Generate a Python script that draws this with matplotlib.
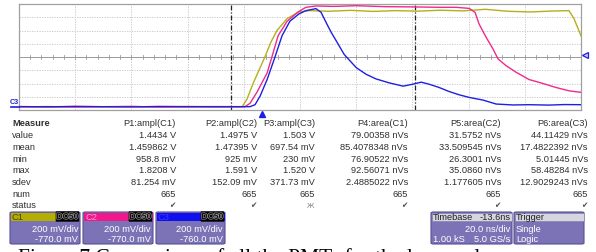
import matplotlib
matplotlib.use("Agg")
import matplotlib.pyplot as plt
from matplotlib.patches import FancyBboxPatch, Rectangle
import matplotlib.patheffects as pe

W, H = 596, 253

# ---------------- data ----------------
# time in ns (20 ns/div, 10 div), amplitude in vertical divisions (0..8)
t_c1 = [0, 10, 20, 30, 40, 50, 60, 70, 79.4, 81.1, 83.3, 85.4, 87.5, 89.6, 91.8, 95.4, 99.6, 103.6,
        110, 118, 126, 134, 142, 150, 158, 166, 174, 182, 190, 195.7, 197.5, 200]
v_c1 = [0.25, 0.22, 0.27, 0.24, 0.26, 0.23, 0.27, 0.25, 0.25, 0.8, 2.0, 3.0, 4.0, 5.1, 6.0, 6.9, 7.4, 7.5,
        7.45, 7.52, 7.44, 7.5, 7.46, 7.53, 7.48, 7.6, 7.45, 7.4, 7.47, 7.5, 6.9, 5.6]

t_c2 = [0, 10, 20, 30, 40, 50, 60, 70, 80.4, 82.2, 84.7, 88.3, 90.0, 92.2, 95.4, 99.3, 102.1, 105.7,
        112, 120, 130, 140, 150, 155.6, 160.2, 162.3, 163.7, 166.2, 168.7, 170.5, 173.3, 176.9,
        181.5, 186.5, 191.1, 195.7, 200]
v_c2 = [0.23, 0.26, 0.22, 0.25, 0.27, 0.22, 0.24, 0.26, 0.25, 0.5, 1.35, 2.8, 4.0, 5.6, 6.7, 7.4, 7.75, 7.85,
        7.82, 7.87, 7.8, 7.78, 7.75, 7.75, 7.67, 7.37, 6.5, 5.5, 4.6, 3.85, 3.35, 2.85,
        2.3, 2.0, 1.7, 1.45, 1.33]

t_c3 = [0, 10, 20, 30, 40, 50, 60, 70, 82.2, 84.0, 85.8, 88.3, 91.1, 93.6, 96.4, 99.6, 102.1, 105.7,
        107.5, 109.3, 111.0, 113.5, 115.7, 120.0, 123.5, 127.0, 131.7, 136.7, 140.2, 143.1, 145.9,
        149.5, 153.0, 156.6, 160.2, 165.1, 169.8, 175.8, 181.5, 188.6, 194, 200]
v_c3 = [0.26, 0.24, 0.27, 0.25, 0.23, 0.27, 0.25, 0.24, 0.25, 0.4, 1.05, 2.3, 4.0, 5.6, 6.7, 7.25, 7.5, 7.65,
        7.37, 6.6, 5.9, 5.0, 4.2, 3.2, 2.7, 2.35, 2.05, 1.8, 1.95, 2.1, 1.95,
        1.7, 1.4, 1.15, 0.95, 0.75, 0.45, 0.38, 0.4, 0.37, 0.41, 0.4]

cursor_times = [75.4, 140.9]

measure_rows = ["value", "mean", "min", "max", "sdev", "num", "status"]
param_names = ["P1:ampl(C1)", "P2:ampl(C2)", "P3:ampl(C3)", "P4:area(C1)", "P5:area(C2)", "P6:area(C3)"]
p1_vals = ["1.4434 V", "1.459862 V", "958.8 mV", "1.8208 V", "81.254 mV", "665", "ok"]
p2_vals = ["1.4975 V", "1.47395 V", "925 mV", "1.591 V", "152.09 mV", "665", "ok"]
p3_vals = ["1.503 V", "697.54 mV", "230 mV", "1.520 V", "371.73 mV", "665", "warn"]
p4_vals = ["79.00358 nVs", "85.4078348 nVs", "76.90522 nVs", "92.56071 nVs", "2.4885022 nVs", "665", "ok"]
p5_vals = ["31.5752 nVs", "33.509545 nVs", "26.3001 nVs", "35.0860 nVs", "1.177605 nVs", "665", "ok"]
p6_vals = ["44.11429 nVs", "17.4822392 nVs", "5.01445 nVs", "58.48284 nVs", "12.9029243 nVs", "665", "ok"]

channels = ["C1", "C2", "C3"]
ch_vdiv = ["200 mV/div", "200 mV/div", "200 mV/div"]
ch_offset = ["-770.0 mV", "-770.0 mV", "-760.0 mV"]
timebase_delay = "-13.6 ns"
timebase_div = "20.0 ns/div"
timebase_samples = "1.00 kS"
timebase_rate = "5.0 GS/s"
trigger_lines = ["Single", "Logic"]

caption = "Figure 7 Comparison of all the PMTs for the laser pulses"

# ---------------- styles ----------------
col_c1 = "#b4b01c"
col_c2 = "#ee2a8c"
col_c3 = "#1f1fe0"
hdr_cols = [("#b3ae00", "#4a4600"), ("#f0188a", "#ff9ccc"), ("#1010ee", "#3a3aff")]
box_body = "#7b73b5"
box_edge = "#585096"

fig = plt.figure(figsize=(W / 100, H / 100), dpi=100)
fig.patch.set_facecolor("white")


def fx(x):
    return x / W


def fy(y):
    return 1 - y / H


# ---------------- plot area ----------------
L, T, R, B = 19, 5, 581, 111
ax = fig.add_axes([fx(L), fy(B), (R - L) / W, (B - T) / H])
ax.set_xlim(0, 200)
ax.set_ylim(0, 8)
ax.set_xticks([])
ax.set_yticks([])
for s in ax.spines.values():
    s.set_color("#a0a0a0")
    s.set_linewidth(0.9)

for i in range(1, 10):
    ax.axvline(i * 20, color="#c4c4c4", lw=0.6, ls=(0, (1.5, 1.5)), zorder=1)
for j in range(1, 8):
    ax.axhline(j, color="#c4c4c4", lw=0.6, ls=(0, (1.5, 1.5)), zorder=1)
ax.axhline(4, color="#9a9a9a", lw=0.7, zorder=1)
for k in range(1, 50):
    ax.plot([k * 4, k * 4], [3.88, 4.12], color="#9a9a9a", lw=0.6, zorder=1)
for ct in cursor_times:
    ax.axvline(ct, color="#222222", lw=0.9, ls=(0, (4, 1.5, 1, 1.5)), zorder=2)

ax.plot(t_c1, v_c1, color=col_c1, lw=1.0, zorder=3)
ax.plot(t_c2, v_c2, color=col_c2, lw=1.0, zorder=4)
ax.plot(t_c3, v_c3, color=col_c3, lw=1.0, zorder=5)

# markers around plot
fig.text(fx(10), fy(103), "C3", color=col_c3, fontsize=5.2, fontweight="bold",
         family="Liberation Sans", va="center", ha="left")
fig.add_artist(plt.Line2D([fx(11), fx(19)], [fy(108), fy(108)], color=col_c3, lw=1.2))
fig.add_artist(plt.Line2D([fx(585)], [fy(56)], marker="<", color=col_c3, ms=4.5,
                          mfc="#c8c8ff", mew=0.9, ls="none"))
fig.add_artist(plt.Line2D([fx(262)], [fy(115)], marker="^", color=col_c3, ms=4.5, ls="none"))

# ---------------- measure table ----------------
row_y = [135.7, 147.4, 159.1, 170.9, 182.6, 194.3, 206]
col_right = [176, 257, 315, 408, 501, 588]
tfont = dict(family="Liberation Sans", fontsize=6.7, color="#303030", va="center")
fig.text(fx(12), fy(124), "Measure", fontweight="bold", ha="left", **tfont)
for r, yv in zip(measure_rows, row_y):
    fig.text(fx(12), fy(yv), r, ha="left", **tfont)
cols = [p1_vals, p2_vals, p3_vals, p4_vals, p5_vals, p6_vals]
for name, xr, vals in zip(param_names, col_right, cols):
    fig.text(fx(xr), fy(124), name, ha="right", **tfont)
    for v, yv in zip(vals, row_y):
        if v == "ok":
            fig.text(fx(xr - 1), fy(yv), "\u2714", ha="right", va="center", fontsize=5.5,
                     color="#505050", family="DejaVu Sans")
        elif v == "warn":
            fig.text(fx(xr - 1), fy(yv), "\u0416", ha="right", va="center", fontsize=5.0,
                     color="#808080", family="DejaVu Sans")
        else:
            fig.text(fx(xr), fy(yv), v, ha="right", **tfont)


# ---------------- channel descriptor boxes ----------------
def box(x0, x1, y0, y1, face, edge, z=2):
    p = FancyBboxPatch((fx(x0), fy(y1)), fx(x1) - fx(x0), fy(y0) - fy(y1),
                       boxstyle="round,pad=0,rounding_size=0.004",
                       transform=fig.transFigure, facecolor=face, edgecolor=edge, lw=0.8, zorder=z)
    fig.add_artist(p)


bfont = dict(family="Liberation Sans", fontsize=6.7, color="white", va="center")
box_x = [(10, 80), (83, 153), (156, 225)]
for (x0, x1), ch, vd, off, (hc, htc) in zip(box_x, channels, ch_vdiv, ch_offset, hdr_cols):
    box(x0, x1, 213, 245, box_body, box_edge)
    fig.add_artist(Rectangle((fx(x0 + 0.5), fy(222)), fx(x1 - x0 - 1), (222 - 213.5) / H,
                             transform=fig.transFigure, facecolor=hc, edgecolor="none", zorder=3))
    fig.text(fx(x0 + 2), fy(217.5), ch, ha="left", va="center", fontsize=6.7,
             family="Liberation Sans", color=htc, zorder=4)
    fig.text(fx(x1 - 1.5), fy(217.5), "DC50", ha="right", va="center", fontsize=6.2,
             family="Liberation Sans", fontweight="bold", color="#111111", zorder=5,
             bbox=dict(boxstyle="round,pad=0.08", fc="black", ec="none"),
             path_effects=[pe.withStroke(linewidth=0.8, foreground="#9a9a9a")])
    fig.text(fx(x1 - 2), fy(230), vd, ha="right", zorder=4, **bfont)
    fig.text(fx(x1 - 2), fy(239.5), off, ha="right", zorder=4, **bfont)

# timebase
box(431, 512, 213, 245, box_body, box_edge)
fig.add_artist(Rectangle((fx(431.5), fy(222)), fx(80), (222 - 213.5) / H,
                         transform=fig.transFigure, facecolor="#d6d6e0", edgecolor="#8880b0",
                         lw=0.5, zorder=3))
fig.text(fx(433), fy(217.5), "Timebase", ha="left", va="center", fontsize=6.7,
         family="Liberation Sans", color="#202020", zorder=4)
fig.text(fx(510.5), fy(217.5), timebase_delay.replace(" ", ""), ha="right", va="center", fontsize=6.7,
         family="Liberation Sans", color="#202020", zorder=4)
fig.text(fx(510), fy(230), timebase_div, ha="right", zorder=4, **bfont)
fig.text(fx(433), fy(239.5), timebase_samples, ha="left", zorder=4, **bfont)
fig.text(fx(510), fy(239.5), timebase_rate, ha="right", zorder=4, **bfont)

# trigger
box(514, 584, 213, 245, box_body, box_edge)
fig.add_artist(Rectangle((fx(514.5), fy(222)), fx(69), (222 - 213.5) / H,
                         transform=fig.transFigure, facecolor="#d6d6e0", edgecolor="#8880b0",
                         lw=0.5, zorder=3))
fig.text(fx(516), fy(217.5), "Trigger", ha="left", va="center", fontsize=6.7,
         family="Liberation Sans", color="#202020", zorder=4)
fig.text(fx(516), fy(230), trigger_lines[0], ha="left", zorder=4, **bfont)
fig.text(fx(516), fy(239.5), trigger_lines[1], ha="left", zorder=4, **bfont)

# ---------------- caption (cut off at bottom, as in the reference) ----------------
fig.text(fx(18), fy(263), caption, ha="left", va="baseline", fontsize=15.5,
         family="Liberation Serif", color="black")

fig.savefig("out.png", dpi=100)
